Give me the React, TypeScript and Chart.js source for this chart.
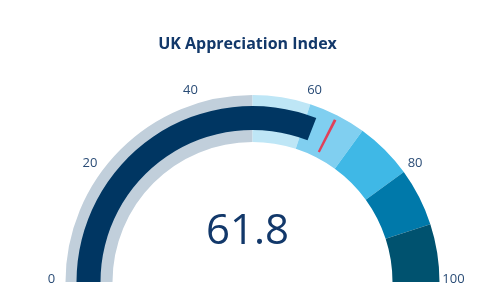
import React, { useEffect, useRef } from 'react';
import { Chart, registerables } from 'chart.js';

Chart.register(...registerables);

const chartTitle = 'UK Appreciation Index';
const bandValues = [50, 10, 10, 10, 10, 10];
const scoreValue = 61.8;
const markerValue = 65;
const tickValues = [0, 20, 40, 60, 80, 100];
const tickLabels = ['0', '20', '40', '60', '80', '100'];
const scaleMax = 100;

const bandColors = ['#c1cfdb', '#bee6f6', '#80cff0', '#3fb8e6', '#0079aa', '#00526f'];
const NAVY = '#003662';
const TEXT = '#12386a';
const RED = '#e0405a';
const CLEAR = 'rgba(0,0,0,0)';

const R = 187;
const FONT = '"Open Sans", "DejaVu Sans", sans-serif';

const base = (cutoutPx: number) => ({
  animation: false as const,
  responsive: false,
  events: [] as any[],
  rotation: -90,
  circumference: 180,
  radius: R,
  cutout: (cutoutPx / R) * 100 + '%',
  layout: { padding: { left: 5, right: 0, top: 71, bottom: 0 } },
  plugins: { legend: { display: false }, tooltip: { enabled: false }, title: { display: false } },
});

const textPlugin = {
  id: 'gaugeText',
  afterDraw(chart: any) {
    const arc = chart.getDatasetMeta(0).data[0];
    if (!arc) return;
    const { x, y } = arc.getProps(['x', 'y'], true);
    const ctx = chart.ctx;
    ctx.save();
    ctx.fillStyle = TEXT;
    ctx.textAlign = 'center';
    ctx.textBaseline = 'middle';
    ctx.font = `bold 16px ${FONT}`;
    ctx.fillText(chartTitle, x - 5, 44);
    ctx.font = `13px ${FONT}`;
    ctx.fillStyle = '#2a4c76';
    const lr = 201;
    tickValues.forEach((v, i) => {
      const a = Math.PI - (v / scaleMax) * Math.PI;
      const tx = x + lr * Math.cos(a);
      const ty = y - lr * Math.sin(a) - (v === 0 || v === scaleMax ? 3 : 1);
      ctx.fillText(tickLabels[i], tx, ty);
    });
    ctx.fillStyle = TEXT;
    ctx.font = `42px ${FONT}`;
    ctx.fillText(String(scoreValue), x - 5, y - 50);
    ctx.restore();
  },
};

export default function App() {
  const ringRef = useRef<HTMLCanvasElement>(null);
  const barRef = useRef<HTMLCanvasElement>(null);
  const markRef = useRef<HTMLCanvasElement>(null);

  useEffect(() => {
    const ring = new Chart(ringRef.current!, {
      type: 'doughnut',
      data: {
        labels: bandValues.map((_, i) => 'band' + i),
        datasets: [{ data: bandValues, backgroundColor: bandColors, borderWidth: 0 }],
      },
      options: base(140) as any,
      plugins: [textPlugin],
    });
    const bar = new Chart(barRef.current!, {
      type: 'doughnut',
      data: {
        labels: ['score', 'rest'],
        datasets: [
          { data: [scaleMax], backgroundColor: [CLEAR], borderWidth: 0, weight: 11 } as any,
          { data: [scoreValue, scaleMax - scoreValue], backgroundColor: [NAVY, CLEAR], borderWidth: 0, weight: 24 } as any,
        ],
      },
      options: base(152) as any,
    });
    const w = 0.5;
    const mark = new Chart(markRef.current!, {
      type: 'doughnut',
      data: {
        labels: ['a', 'marker', 'b'],
        datasets: [
          { data: [scaleMax], backgroundColor: [CLEAR], borderWidth: 0, weight: 5 } as any,
          {
            data: [markerValue - w / 2, w, scaleMax - markerValue - w / 2],
            backgroundColor: [CLEAR, RED, CLEAR],
            borderWidth: 0,
            weight: 36,
          } as any,
        ],
      },
      options: base(146) as any,
    });
    return () => {
      ring.destroy();
      bar.destroy();
      mark.destroy();
    };
  }, []);

  const cs: React.CSSProperties = { position: 'absolute', left: 0, top: 0, display: 'block' };
  return (
    <div style={{ position: 'fixed', left: 0, top: 0, width: 500, height: 306, background: '#fff' }}>
      <canvas ref={ringRef} width={500} height={306} style={cs} />
      <canvas ref={barRef} width={500} height={306} style={cs} />
      <canvas ref={markRef} width={500} height={306} style={cs} />
    </div>
  );
}
